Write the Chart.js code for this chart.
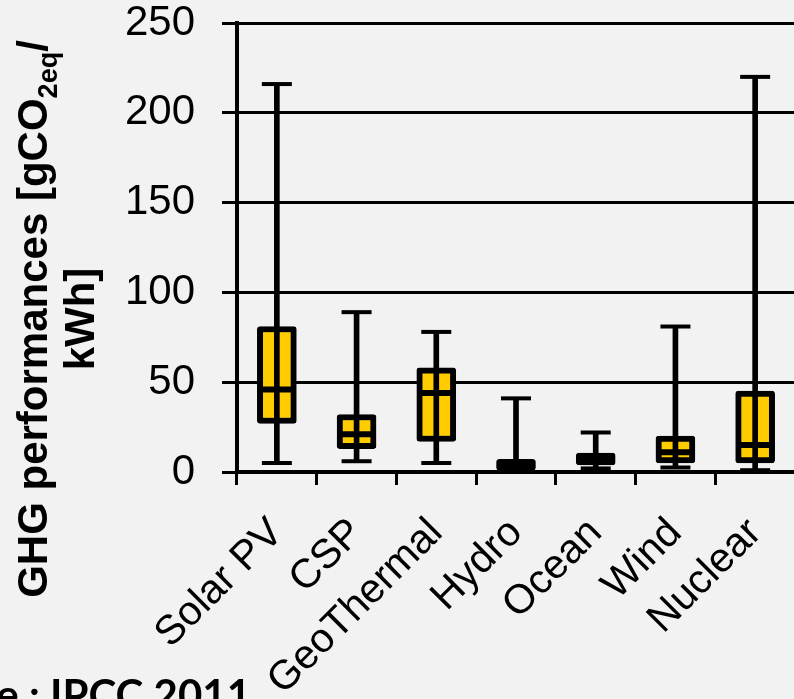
<!DOCTYPE html>
<html>
<head>
<meta charset="utf-8">
<script src="https://cdn.jsdelivr.net/npm/chart.js@4.4.1/dist/chart.umd.min.js"></script>
<style>
  html, body { margin: 0; padding: 0; background: #f2f2f2; }
  #wrap { position: relative; width: 794px; height: 699px; overflow: hidden; background: #f2f2f2; }
  #box { position: absolute; left: 0; top: 0; width: 800px; height: 699px; }
  #ytitle {
    position: absolute; left: -254px; top: 272px; width: 620px; height: 94px;
    transform: rotate(-90deg); transform-origin: 50% 50%;
    font: bold 42px "Liberation Sans", Arial, sans-serif; line-height: 47px;
    text-align: center; color: #000; white-space: nowrap;
  }
  #ytitle sub { font-size: 27px; line-height: 0; vertical-align: -10px; }
  #source {
    position: absolute; right: 543px; top: 673px;
    font: bold 42px Lato, "Open Sans", sans-serif; line-height: 42px;
    color: #000; white-space: nowrap;
  }
</style>
</head>
<body>
<div id="wrap">
  <div id="box"><canvas id="ghgChart"></canvas></div>
  <div id="ytitle">GHG performances [gCO<sub>2eq</sub>/<br>kWh]</div>
  <div id="source">Source : IPCC 2011</div>
</div>
<script>
// values (gCO2eq/kWh)
const categories = ['Solar PV', 'CSP', 'GeoThermal', 'Hydro', 'Ocean', 'Wind', 'Nuclear'];
const mins = [5, 6, 5, 0, 2, 2.5, 1];
const q1s = [27, 13, 17, 1, 4, 5, 5];
const medians = [46, 21, 44, 4, 7, 11, 15];
const q3s = [81, 32, 58, 7, 10.5, 20, 45];
const maxs = [216, 89, 78, 41, 22, 81, 220];
const yTicks = [0, 50, 100, 150, 200, 250];

const boxes = categories.map((c, i) => [q1s[i], q3s[i]]);
const whiskers = categories.map((c, i) => [mins[i], maxs[i]]);

function capLine(data, radius, width, order) {
  return {
    type: 'line',
    data: data,
    showLine: false,
    pointStyle: 'line',
    pointRadius: radius,
    pointHoverRadius: radius,
    pointBorderWidth: width,
    pointHoverBorderWidth: width,
    pointBorderColor: '#000',
    pointBackgroundColor: '#000',
    order: order
  };
}

const ctx = document.getElementById('ghgChart').getContext('2d');
new Chart(ctx, {
  type: 'bar',
  data: {
    labels: categories,
    datasets: [
      capLine(medians, 19, 6, 1),
      capLine(maxs, 15, 4, 1),
      capLine(mins, 15, 4, 1),
      {
        data: whiskers,
        backgroundColor: '#000',
        barThickness: 5,
        grouped: false,
        order: 2
      },
      {
        data: boxes,
        backgroundColor: '#ffcc00',
        borderColor: '#000',
        borderWidth: 6,
        borderSkipped: false,
        borderRadius: 3,
        barThickness: 39,
        grouped: false,
        order: 3
      }
    ]
  },
  options: {
    responsive: true,
    maintainAspectRatio: false,
    animation: false,
    events: [],
    layout: { autoPadding: false, padding: { top: 23, right: 5, bottom: 0, left: 0 } },
    plugins: {
      legend: { display: false },
      tooltip: { enabled: false }
    },
    scales: {
      x: {
        grid: { drawOnChartArea: false, drawTicks: true, tickLength: 13, lineWidth: 3, color: '#000', offset: true },
        border: { display: true, color: '#000', width: 4 },
        ticks: {
          minRotation: 45,
          maxRotation: 45,
          padding: 24,
          color: '#000',
          font: { family: '"Liberation Sans", Arial, sans-serif', size: 41 }
        },
        afterFit: (scale) => {
          scale.height = 227;
          scale.paddingLeft = 0;
          scale.paddingRight = 0;
        }
      },
      y: {
        min: 0,
        max: 250,
        afterBuildTicks: (scale) => {
          scale.ticks = yTicks.map((v) => ({ value: v }));
        },
        grid: { drawTicks: true, tickLength: 15, lineWidth: 3, color: '#000' },
        border: { display: true, color: '#000', width: 4 },
        ticks: {
          padding: 27,
          color: '#000',
          font: { family: '"Liberation Sans", Arial, sans-serif', size: 42, lineHeight: 1 }
        },
        afterFit: (scale) => {
          scale.width = 237;
          scale.paddingTop = 0;
          scale.paddingBottom = 0;
        }
      }
    }
  }
});
</script>
</body>
</html>
